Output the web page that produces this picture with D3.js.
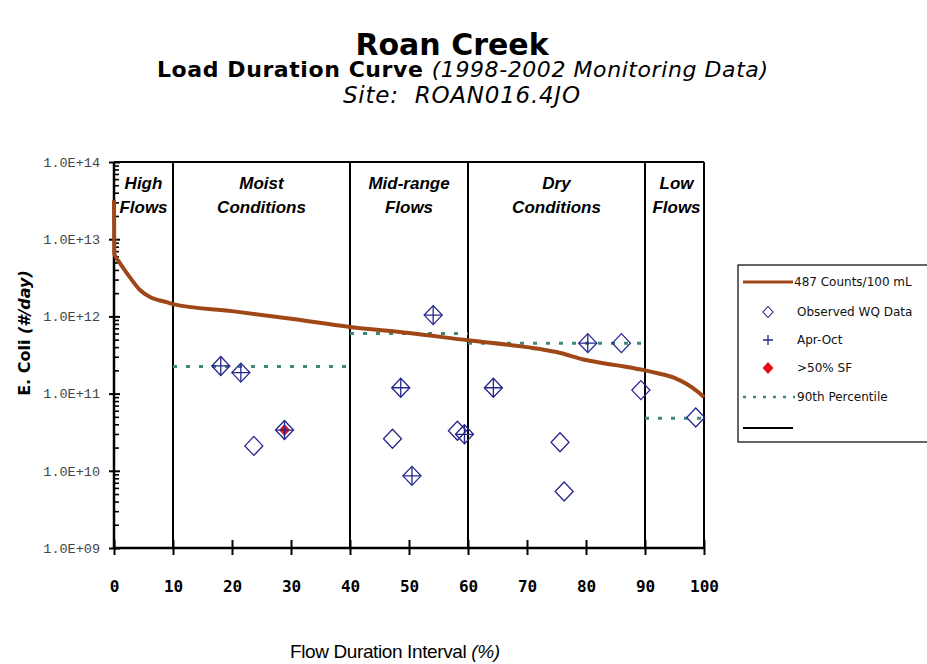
<!DOCTYPE html>
<html>
<head>
<meta charset="utf-8">
<script src="https://cdn.jsdelivr.net/npm/d3@7"></script>
<style>
  body { margin: 0; background: #fff; }
  svg { display: block; }
  .ytick text { font-family: "Liberation Mono", monospace; font-size: 13.5px; fill: #444; }
  .xtick text { font-family: "DejaVu Sans Mono", monospace; font-size: 16px; font-weight: bold; fill: #000; }
  .legend text { font-family: "DejaVu Sans", sans-serif; font-size: 12px; fill: #111; }
</style>
</head>
<body>
<svg id="chart" width="927" height="664"></svg>
<script>
// load duration curve (487 counts/100 mL)
const curveX = [0, 0.05, 0.3, 1, 2.7, 4.4, 6.1, 8.9, 10, 20, 30, 40, 50, 60, 70, 75, 80, 85, 90, 92, 95, 97, 99, 100];
const curveY = [3.2e13, 6.5e12, 5.9e12, 4.9e12, 3.2e12, 2.2e12, 1.78e12, 1.53e12, 1.44e12, 1.17e12, 9.3e11, 7.3e11, 6.1e11, 4.9e11, 4.0e11, 3.46e11, 2.72e11, 2.34e11, 2.0e11, 1.85e11, 1.6e11, 1.34e11, 1.05e11, 9.0e10];

// observed water quality samples
const obsX = [18.1, 21.5, 23.7, 28.9, 47.2, 48.6, 50.5, 54.1, 58.2, 59.4, 64.3, 75.6, 76.3, 80.3, 86.0, 89.3, 98.6];
const obsY = [2.28e11, 1.87e11, 2.1e10, 3.37e10, 2.6e10, 1.19e11, 8.6e9, 1.04e12, 3.3e10, 2.97e10, 1.19e11, 2.34e10, 5.4e9, 4.5e11, 4.5e11, 1.11e11, 4.9e10];
const obsAprOct = [true, true, false, true, false, true, true, true, false, true, true, false, false, true, false, false, false];
const obsSF50 = [false, false, false, true, false, false, false, false, false, false, false, false, false, false, false, false, false];

// 90th percentile per flow zone
const pctStart = [10, 40, 60, 90];
const pctEnd = [40, 60, 90, 100];
const pctValue = [2.25e11, 6.0e11, 4.5e11, 4.8e10];

const zoneBreaks = [10, 40, 60, 90];
const zoneNames = [["High", "Flows"], ["Moist", "Conditions"], ["Mid-range", "Flows"], ["Dry", "Conditions"], ["Low", "Flows"]];
const zoneEdges = [0, 10, 40, 60, 90, 100];

const xTicks = [0, 10, 20, 30, 40, 50, 60, 70, 80, 90, 100];
const yTicks = [1e9, 1e10, 1e11, 1e12, 1e13, 1e14];
const yTickLabels = ["1.0E+09", "1.0E+10", "1.0E+11", "1.0E+12", "1.0E+13", "1.0E+14"];

const legendLabels = ["487 Counts/100 mL", "Observed WQ Data", "Apr-Oct", ">50% SF", "90th Percentile", ""];

const brown = "#a04718", navy = "#26268f", teal = "#3c8a78";

const svg = d3.select("#chart");
svg.append("rect").attr("width", 927).attr("height", 664).attr("fill", "#fff");

const x = d3.scaleLinear().domain([0, 100]).range([114, 704]);
const y = d3.scaleLog().domain([1e9, 1e14]).range([548, 162]);

// titles
svg.append("text").attr("x", 452).attr("y", 55).attr("text-anchor", "middle")
  .style("font-family", "DejaVu Sans").style("font-weight", "bold").style("font-size", "30px")
  .text("Roan Creek");
const sub = svg.append("text").attr("x", 157).attr("y", 77)
  .attr("textLength", 611).attr("lengthAdjust", "spacing")
  .style("font-family", "DejaVu Sans").style("font-size", "22px");
sub.append("tspan").style("font-weight", "bold").text("Load Duration Curve  ");
sub.append("tspan").style("font-style", "italic").text("(1998-2002 Monitoring Data)");
svg.append("text").attr("x", 343).attr("y", 103)
  .attr("textLength", 237).attr("lengthAdjust", "spacing")
  .style("font-family", "DejaVu Sans").style("font-style", "italic").style("font-size", "23px")
  .attr("xml:space", "preserve")
  .text("Site:  ROAN016.4JO");

// frame and zone dividers
const frame = svg.append("g").attr("stroke", "#000").attr("stroke-width", 2);
frame.append("line").attr("x1", x(0)).attr("x2", x(100)).attr("y1", y(1e14)).attr("y2", y(1e14));
frame.append("line").attr("x1", x(100)).attr("x2", x(100)).attr("y1", y(1e14)).attr("y2", y(1e9));
frame.selectAll(".zone").data(zoneBreaks).join("line")
  .attr("x1", d => x(d)).attr("x2", d => x(d))
  .attr("y1", y(1e14)).attr("y2", y(1e9));

// zone labels
const zl = svg.append("g")
  .style("font-family", "Liberation Sans").style("font-weight", "bold")
  .style("font-style", "italic").style("font-size", "17px");
zoneNames.forEach((lines, i) => {
  const cx = x((zoneEdges[i] + zoneEdges[i + 1]) / 2);
  lines.forEach((t, j) => {
    zl.append("text").attr("x", cx + (i === 4 ? 2 : 0)).attr("y", 189 + j * 24)
      .attr("text-anchor", "middle").text(t);
  });
});

// axes
const minor = [];
for (let k = 9; k < 14; k++) for (let m = 2; m <= 9; m++) minor.push(m * Math.pow(10, k));

svg.append("g").attr("class", "ytick").attr("transform", `translate(${x(0)},0)`)
  .call(d3.axisLeft(y).tickValues(yTicks).tickSize(5).tickSizeOuter(0).tickPadding(9)
    .tickFormat((d, i) => yTickLabels[i]))
  .call(g => g.select(".domain").remove())
  .call(g => g.selectAll(".tick line").attr("stroke-width", 2));
svg.append("g").attr("transform", `translate(${x(0)},0)`)
  .call(d3.axisRight(y).tickValues(yTicks).tickSize(6).tickSizeOuter(0).tickFormat(""))
  .call(g => g.select(".domain").remove())
  .call(g => g.selectAll(".tick line").attr("stroke-width", 2));
svg.append("g").attr("transform", `translate(${x(0)},0)`)
  .call(d3.axisRight(y).tickValues(minor).tickSize(5).tickSizeOuter(0).tickFormat(""))
  .call(g => g.select(".domain").remove())
  .call(g => g.selectAll(".tick line").attr("stroke-width", 1.6));

svg.append("g").attr("class", "xtick").attr("transform", `translate(0,${y(1e9)})`)
  .call(d3.axisBottom(x).tickValues(xTicks).tickSize(7).tickSizeOuter(0).tickPadding(26))
  .call(g => g.select(".domain").remove())
  .call(g => g.selectAll(".tick line").attr("stroke-width", 2));
svg.append("g").attr("transform", `translate(0,${y(1e9)})`)
  .call(d3.axisTop(x).tickValues(xTicks).tickSize(8).tickSizeOuter(0).tickFormat(""))
  .call(g => g.select(".domain").remove())
  .call(g => g.selectAll(".tick line").attr("stroke-width", 2));

svg.append("line").attr("x1", x(0)).attr("x2", x(100)).attr("y1", y(1e9)).attr("y2", y(1e9))
  .attr("stroke", "#000").attr("stroke-width", 2.5);
svg.append("line").attr("x1", x(0)).attr("x2", x(0)).attr("y1", y(1e14)).attr("y2", y(1e9))
  .attr("stroke", "#000").attr("stroke-width", 2.5);

// axis titles
const xt = svg.append("text").attr("x", 290).attr("y", 658)
  .attr("textLength", 210).attr("lengthAdjust", "spacing")
  .style("font-family", "Liberation Sans").style("font-size", "19px");
xt.append("tspan").text("Flow Duration Interval ");
xt.append("tspan").style("font-style", "italic").text("(%)");

const yt = svg.append("text").attr("transform", "translate(30,333) rotate(-90)").attr("text-anchor", "middle")
  .style("font-family", "DejaVu Sans").style("font-weight", "bold").style("font-size", "16px");
yt.append("tspan").text("E. Coli ");
yt.append("tspan").style("font-style", "italic").text("(#/day)");

// 90th percentile lines
svg.append("g").selectAll("line").data(pctValue).join("line")
  .attr("x1", (d, i) => x(pctStart[i])).attr("x2", (d, i) => x(pctEnd[i]))
  .attr("y1", d => y(d)).attr("y2", d => y(d))
  .attr("stroke", teal).attr("stroke-width", 3).attr("stroke-dasharray", "4,9");

// load duration curve
const curve = d3.line().x(d => x(d[0])).y(d => y(d[1])).curve(d3.curveMonotoneX);
svg.append("path").datum(curveX.map((v, i) => [v, curveY[i]]))
  .attr("d", curve).attr("fill", "none").attr("stroke", brown).attr("stroke-width", 4)
  .attr("stroke-linejoin", "round");

// observed points
const dw = 9, dh = 9.5;
const diamond = (w, h) => `M0,${-h}L${w},0L0,${h}L${-w},0Z`;
const pts = svg.append("g").selectAll("g").data(obsX).join("g")
  .attr("transform", (d, i) => `translate(${x(d)},${y(obsY[i])})`);
pts.append("path").attr("d", diamond(dw, dh)).attr("fill", "none")
  .attr("stroke", navy).attr("stroke-width", 1.3);
pts.filter((d, i) => obsSF50[i]).append("path").attr("d", diamond(5.5, 6)).attr("fill", "#e8101a");
pts.filter((d, i) => obsAprOct[i]).append("path")
  .attr("d", `M${-dw},0H${dw}M0,${-dh}V${dh}`).attr("stroke", navy).attr("stroke-width", 1.3);

// legend
const lg = svg.append("g").attr("class", "legend");
lg.append("rect").attr("x", 738).attr("y", 265).attr("width", 200).attr("height", 177)
  .attr("fill", "#fff").attr("stroke", "#000").attr("stroke-width", 1.2);
const rowY = [282, 312, 340, 368, 397, 428];
lg.selectAll("text").data(legendLabels).join("text")
  .attr("x", (d, i) => i === 0 ? 794 : 797).attr("y", (d, i) => rowY[i]).attr("dy", "0.35em").text(d => d);
lg.append("line").attr("x1", 743).attr("x2", 793).attr("y1", rowY[0]).attr("y2", rowY[0])
  .attr("stroke", brown).attr("stroke-width", 3);
lg.append("path").attr("transform", `translate(768,${rowY[1]})`).attr("d", diamond(5, 5.5))
  .attr("fill", "none").attr("stroke", navy).attr("stroke-width", 1.1);
lg.append("path").attr("transform", `translate(768,${rowY[2]})`).attr("d", "M-5,0H5M0,-5V5")
  .attr("stroke", navy).attr("stroke-width", 1.3);
lg.append("path").attr("transform", `translate(768,${rowY[3]})`).attr("d", diamond(5.5, 6))
  .attr("fill", "#e8101a");
lg.append("line").attr("x1", 743).attr("x2", 795).attr("y1", rowY[4]).attr("y2", rowY[4])
  .attr("stroke", teal).attr("stroke-width", 2.5).attr("stroke-dasharray", "3,7");
lg.append("line").attr("x1", 743).attr("x2", 793).attr("y1", rowY[5]).attr("y2", rowY[5])
  .attr("stroke", "#000").attr("stroke-width", 2);
</script>
</body>
</html>
